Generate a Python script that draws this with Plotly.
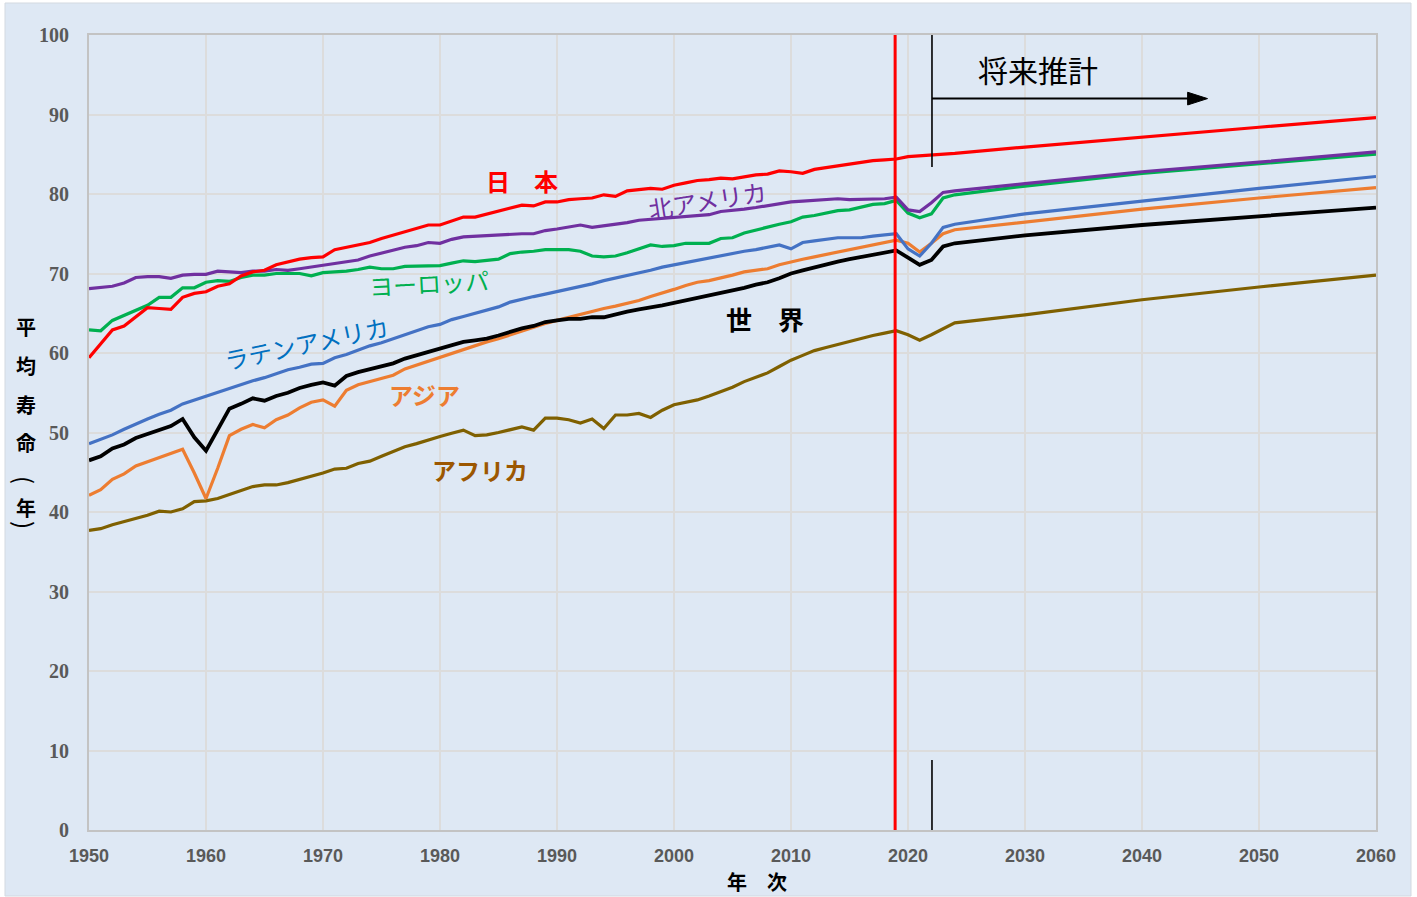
import plotly.graph_objects as go

# 平均寿命の推移（1950-2021年は推計値、2022年以降は将来推計）
years = list(range(1950, 2025)) + [2030, 2040, 2050, 2060]

japan = [59.4, 61.2, 62.9, 63.4, 64.5, 65.7, 65.6, 65.5, 67.0, 67.5,
         67.7, 68.4, 68.7, 69.7, 70.2, 70.4, 71.1, 71.5, 71.8, 72.0,
         72.1, 73.0, 73.3, 73.5, 73.9, 74.4, 74.8, 75.3, 75.6, 76.1,
         76.1, 76.6, 77.1, 77.1, 77.5, 77.8, 78.2, 78.6, 78.5, 79.0,
         79.0, 79.3, 79.4, 79.5, 79.9, 79.7, 80.4, 80.6, 80.7, 80.6,
         81.1, 81.4, 81.7, 81.8, 82.0, 81.9, 82.2, 82.4, 82.5, 82.9,
         82.8, 82.6, 83.1, 83.3, 83.6, 83.8, 84.0, 84.2, 84.3, 84.4,
         84.7, 84.8, 84.9, 85.0, 85.1,
         85.9, 87.2, 88.4, 89.6]

north_america = [68.1, 68.2, 68.4, 68.8, 69.5, 69.6, 69.6, 69.4, 69.8, 69.9,
                 69.9, 70.3, 70.2, 70.1, 70.3, 70.3, 70.5, 70.4, 70.6, 70.8,
                 71.0, 71.3, 71.4, 71.7, 72.2, 72.6, 72.9, 73.3, 73.5, 73.9,
                 73.8, 74.3, 74.6, 74.7, 74.8, 74.8, 74.9, 75.0, 75.0, 75.4,
                 75.6, 75.8, 76.1, 75.8, 76.0, 76.1, 76.4, 76.7, 76.8, 76.9,
                 77.0, 77.2, 77.3, 77.4, 77.8, 77.9, 78.1, 78.3, 78.5, 78.8,
                 79.0, 79.1, 79.2, 79.3, 79.4, 79.3, 79.3, 79.3, 79.4, 79.6,
                 78.0, 77.8, 78.9, 80.2, 80.4,
                 81.3, 82.8, 84.0, 85.3]

europe = [62.9, 62.8, 64.1, 64.7, 65.4, 66.0, 67.0, 67.0, 68.2, 68.2,
          68.9, 69.1, 69.0, 69.5, 69.8, 69.8, 70.0, 70.0, 70.0, 69.7,
          70.1, 70.2, 70.3, 70.5, 70.8, 70.6, 70.6, 70.9, 70.9, 71.0,
          71.0, 71.3, 71.6, 71.5, 71.6, 71.8, 72.5, 72.7, 72.8, 73.0,
          73.0, 73.0, 72.8, 72.2, 72.1, 72.2, 72.6, 73.1, 73.6, 73.4,
          73.5, 73.8, 73.8, 73.8, 74.4, 74.5, 75.1, 75.5, 75.9, 76.2,
          76.5, 77.1, 77.3, 77.6, 77.9, 78.0, 78.4, 78.7, 78.8, 79.2,
          77.6, 77.0, 77.5, 79.5, 79.9,
          81.0, 82.6, 83.8, 85.0]

latin_america = [48.6, 49.1, 49.7, 50.4, 51.1, 51.7, 52.3, 52.8, 53.6, 54.1,
                 54.6, 55.1, 55.5, 56.0, 56.5, 56.9, 57.4, 57.9, 58.2, 58.6,
                 58.7, 59.4, 59.8, 60.4, 60.9, 61.3, 61.8, 62.4, 62.8, 63.3,
                 63.6, 64.2, 64.6, 65.0, 65.4, 65.8, 66.4, 66.8, 67.1, 67.4,
                 67.7, 68.0, 68.3, 68.7, 69.1, 69.4, 69.8, 70.1, 70.4, 70.8,
                 71.1, 71.4, 71.7, 71.9, 72.2, 72.6, 72.8, 73.0, 73.3, 73.6,
                 73.1, 73.9, 74.1, 74.3, 74.5, 74.5, 74.5, 74.7, 74.8, 75.0,
                 73.1, 72.2, 73.8, 75.8, 76.2,
                 77.5, 79.1, 80.7, 82.2]

asia = [42.1, 42.8, 44.1, 44.8, 45.8, 46.3, 46.8, 47.4, 47.9, 44.9,
        41.7, 45.5, 49.6, 50.4, 51.0, 50.6, 51.6, 52.2, 53.1, 53.8,
        54.1, 53.3, 55.3, 56.0, 56.4, 56.7, 57.2, 58.0, 58.5, 59.0,
        59.5, 60.0, 60.4, 60.9, 61.4, 61.8, 62.3, 62.8, 63.3, 63.7,
        64.1, 64.5, 64.9, 65.3, 65.6, 65.9, 66.2, 66.6, 67.1, 67.5,
        68.0, 68.5, 68.9, 69.1, 69.4, 69.8, 70.2, 70.4, 70.6, 71.1,
        71.5, 71.8, 72.1, 72.4, 72.7, 73.1, 73.4, 73.7, 74.0, 74.2,
        73.8, 72.7, 73.8, 75.0, 75.5,
        76.5, 78.1, 79.5, 80.8]

world = [46.5, 47.0, 48.0, 48.5, 49.3, 49.8, 50.4, 50.8, 51.7, 49.4,
         47.7, 50.3, 53.0, 53.6, 54.3, 54.0, 54.6, 55.0, 55.6, 56.0,
         56.3, 55.9, 57.1, 57.6, 58.0, 58.3, 58.7, 59.3, 59.7, 60.2,
         60.5, 60.9, 61.4, 61.6, 61.8, 62.2, 62.7, 63.1, 63.4, 63.9,
         64.1, 64.3, 64.3, 64.5, 64.5, 64.9, 65.2, 65.5, 65.7, 66.0,
         66.3, 66.6, 66.9, 67.2, 67.5, 67.8, 68.2, 68.6, 68.9, 69.4,
         70.0, 70.4, 70.8, 71.1, 71.5, 71.8, 72.1, 72.3, 72.6, 72.9,
         72.0, 71.1, 71.7, 73.4, 73.8,
         74.8, 76.1, 77.2, 78.3]

africa = [37.7, 37.9, 38.4, 38.8, 39.1, 39.6, 40.1, 40.0, 40.4, 41.3,
          41.4, 41.7, 42.2, 42.7, 43.2, 43.4, 43.4, 43.7, 44.1, 44.4,
          44.9, 45.4, 45.5, 46.1, 46.4, 47.0, 47.6, 48.2, 48.6, 49.1,
          49.5, 49.9, 50.3, 49.6, 49.7, 50.0, 50.4, 50.7, 50.3, 51.8,
          51.8, 51.6, 51.2, 51.7, 50.5, 52.2, 52.2, 52.4, 51.9, 52.8,
          53.5, 53.8, 54.1, 54.6, 55.1, 55.7, 56.4, 56.9, 57.5, 58.3,
          59.1, 59.7, 60.3, 60.7, 61.1, 61.5, 61.8, 62.2, 62.5, 62.8,
          62.3, 61.6, 62.3, 63.1, 63.8,
          64.8, 66.7, 68.3, 69.8]

# (name, values, line colour, width) in drawing order
series = [
    ("アフリカ", africa, "#7F6000", 3.2),
    ("アジア", asia, "#ED7D31", 3.2),
    ("世界", world, "#000000", 3.8),
    ("ラテンアメリカ", latin_america, "#4472C4", 3.2),
    ("ヨーロッパ", europe, "#00B050", 3.2),
    ("北アメリカ", north_america, "#7030A0", 3.2),
    ("日本", japan, "#FF0000", 3.2),
]

W, H = 1417, 897
L, R, T, B = 89, 41, 35, 67
PW, PH = W - L - R, H - T - B


def px_x(px):
    return (px - L) / PW


def px_y(py):
    return (H - B - py) / PH


fig = go.Figure()
for name, vals, color, width in series:
    fig.add_trace(go.Scatter(x=years, y=vals, mode="lines", name=name,
                             line=dict(color=color, width=width),
                             showlegend=False))

jp_font = "Noto Sans CJK JP"

# series labels placed next to their lines
labels = [
    ("<b>日　本</b>", 1987.0, 81.7, "#FF0000", 24, 0),
    ("北アメリカ", 2002.9, 79.3, "#7030A0", 24, -9),
    ("ヨーロッパ", 1979.1, 68.9, "#00B050", 24, -3),
    ("ラテンアメリカ", 1968.6, 61.3, "#0070C0", 24, -12),
    ("<b>アジア</b>", 1978.7, 54.8, "#ED7D31", 24, 0),
    ("<b>アフリカ</b>", 1983.4, 45.3, "#9C5700", 24, 0),
    ("<b>世　界</b>", 2007.8, 64.4, "#000000", 26, 0),
    ("将来推計", 2031.1, 95.7, "#000000", 30, 0),
]
annotations = []
for text, x, y, color, size, angle in labels:
    annotations.append(dict(x=x, y=y, xref="x", yref="y", text=text,
                            showarrow=False, textangle=angle,
                            font=dict(family=jp_font, size=size, color=color)))

# vertical axis title, one character per line (parentheses turned sideways)
ytitle_chars = [("<b>平</b>", 0, 20), ("<b>均</b>", 0, 20), ("<b>寿</b>", 0, 20),
                ("<b>命</b>", 0, 20), ("(", 90, 24), ("<b>年</b>", 0, 20),
                (")", 90, 24)]
ytitle_px = [326, 365, 404, 442, 480, 507, 525]
for (ch, ang, size), py in zip(ytitle_chars, ytitle_px):
    annotations.append(dict(x=px_x(26), y=px_y(py), xref="paper", yref="paper",
                            text=ch, showarrow=False, textangle=ang,
                            xanchor="center", yanchor="middle",
                            font=dict(family=jp_font, size=size, color="#000000")))

annotations.append(dict(x=px_x(757), y=px_y(881), xref="paper", yref="paper",
                        text="<b>年　次</b>", showarrow=False,
                        xanchor="center", yanchor="middle",
                        font=dict(family=jp_font, size=20, color="#000000")))

proj_start = 2022.05
shapes = [
    # chart background frame
    dict(type="rect", xref="paper", yref="paper", layer="below",
         x0=px_x(5), x1=px_x(1411), y0=px_y(896), y1=px_y(3),
         fillcolor="#DEE8F4", line=dict(color="#D3D9E0", width=1)),
    # latest observed year
    dict(type="line", xref="x", yref="y", x0=2018.9, x1=2018.9, y0=0, y1=100,
         line=dict(color="#FF0000", width=3)),
    # start of projections
    dict(type="line", xref="x", yref="y", x0=proj_start, x1=proj_start,
         y0=83.4, y1=100.2, line=dict(color="#000000", width=1.6)),
    dict(type="line", xref="x", yref="y", x0=proj_start, x1=proj_start,
         y0=-0.4, y1=8.8, line=dict(color="#000000", width=1.6)),
    dict(type="line", xref="x", yref="y", x0=proj_start, x1=2044.2,
         y0=92.0, y1=92.0, line=dict(color="#000000", width=2)),
    dict(type="path", xref="x", yref="y",
         path="M 2045.6,92.0 L 2043.9,92.8 L 2043.9,91.2 Z",
         fillcolor="#000000", line=dict(color="#000000", width=1)),
]

fig.update_layout(
    width=W, height=H, autosize=False,
    margin=dict(l=L, r=R, t=T, b=B, pad=0),
    paper_bgcolor="#FFFFFF",
    plot_bgcolor="#FFFFFF",
    annotations=annotations,
    shapes=shapes,
    showlegend=False,
)
fig.update_xaxes(range=[1950, 2060], dtick=10, tick0=1950,
                 showgrid=True, gridcolor="#DCDCDC", gridwidth=1.5,
                 showline=True, linecolor="#C3C3C3", linewidth=2, mirror=True,
                 zeroline=False, ticks="", ticklabelstandoff=8,
                 tickfont=dict(family="Liberation Sans", size=18,
                               color="#595959", weight="bold"))
fig.update_yaxes(range=[0, 100], dtick=10, tick0=0,
                 showgrid=True, gridcolor="#DCDCDC", gridwidth=1.5,
                 showline=True, linecolor="#C3C3C3", linewidth=2, mirror=True,
                 zeroline=False, ticks="", ticklabelstandoff=14,
                 tickfont=dict(family="Liberation Serif", size=20,
                               color="#595959", weight="bold"))

fig.write_html("out.html")
